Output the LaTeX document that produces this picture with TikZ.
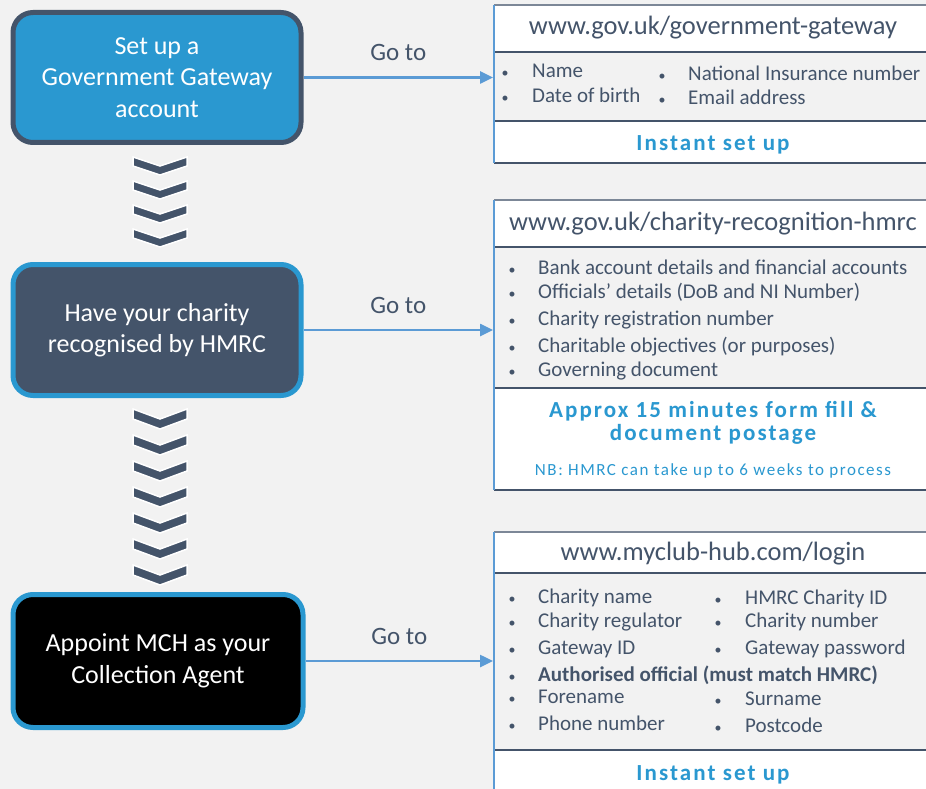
\documentclass[tikz,border=0pt]{standalone}
\usepackage{fontspec}
\setmainfont{Carlito}
\newfontfamily\tagfont[LetterSpace=9]{Carlito}
\usetikzlibrary{arrows.meta}

\definecolor{slate}{HTML}{44546A}
\definecolor{stepblue}{HTML}{2A98D0}
\definecolor{arrowblue}{HTML}{5B9BD5}
\definecolor{paper}{HTML}{F2F2F2}

\tikzset{
  stepbox/.style={rounded corners=20pt, line width=5pt, minimum width=288pt,
    minimum height=130pt, align=center, text=white,
    font=\fontsize{26}{31.5}\selectfont},
  goto/.style={draw=arrowblue, line width=2.5pt, -{Triangle[length=13pt,width=12pt]}},
  golabel/.style={text=slate, font=\fontsize{25}{29}\selectfont},
  urltext/.style={anchor=base, inner sep=0pt, text=slate, font=\fontsize{26.5}{31}\selectfont},
  itemtext/.style={anchor=base west, inner sep=0pt, text=slate, font=\fontsize{21}{25}\selectfont},
  bulletmark/.style={anchor=base, inner sep=0pt, text=slate, font=\fontsize{14}{16}\selectfont},
  tagtext/.style={anchor=base, inner sep=0pt, text=stepblue, font=\fontsize{23}{27}\tagfont\bfseries},
  notetext/.style={anchor=base, inner sep=0pt, text=stepblue, font=\fontsize{17}{20}\tagfont},
  panelline/.style={draw=slate, line width=2.5pt},
  panelside/.style={draw=arrowblue, line width=2.5pt},
}

% panel: top, end of header, start of footer, bottom
\newcommand\panel[4]{
  \fill[white] (494,#1) rectangle (934,#2);
  \fill[white] (494,#3) rectangle (934,#4);
  \draw[draw=slate!70, line width=1.5pt] (494,#1) -- (934,#1);
  \draw[panelline] (494,#2) -- (934,#2) (494,#3) -- (934,#3) (494,#4) -- (934,#4);
  \draw[panelside] (494,#1) -- (494,#4);
}

\begin{document}
\begin{tikzpicture}[x=1pt, y=-1pt]
  \useasboundingbox (0,0) rectangle (926,789);
  \clip (0,0) rectangle (926,789);
  \fill[paper] (0,0) rectangle (926,789);

  % the three steps
  \node[stepbox, fill=stepblue, draw=slate] (gateway) at (157,77.5)
    {Set up a\\Government Gateway\\account};
  \node[stepbox, fill=slate, draw=stepblue, minimum height=131pt] (recognise) at (157,330)
    {Have your charity\\recognised by HMRC};
  \node[stepbox, fill=black, draw=stepblue, minimum width=290pt, minimum height=133pt] (appoint) at (158,661)
    {Appoint MCH as your\\Collection Agent};

  % chevrons between the steps
  \foreach \t in {157,181,205,229} {
    \filldraw[fill=slate, draw=white, line width=1.5pt]
      (133,\t) -- (160,\t+9) -- (187,\t) -- (187,\t+9) -- (160,\t+18) -- (133,\t+9) -- cycle;
  }
  \foreach \t in {409,435,461,487,513,539,565} {
    \filldraw[fill=slate, draw=white, line width=1.5pt]
      (133,\t) -- (160,\t+10) -- (187,\t) -- (187,\t+10) -- (160,\t+20) -- (133,\t+10) -- cycle;
  }

  % panels on the right
  \panel{5}{52}{121}{163}
  \panel{200}{247}{388}{490}
  \panel{532}{573}{750}{800}

  \coordinate (gwpanel) at (493,77.5);
  \coordinate (hmrcpanel) at (493,330);
  \coordinate (mchpanel) at (493,661);

  \draw[goto] (gateway) -- (gwpanel) node[golabel, midway, above=12pt] (goA) {Go to};
  \draw[goto] (recognise) -- (hmrcpanel) node[golabel, midway, above=12pt] (goB) {Go to};
  \draw[goto] (appoint) -- (mchpanel) node[golabel, midway, above=12pt] (goC) {Go to};

  % government gateway
  \node[urltext] (gwurl) at (713,35) {www.gov.uk/government-gateway};
  \foreach \y/\txt [count=\i] in {78/Name, 103/Date of birth} {
    \node[bulletmark] (gwdot\i) at (505,\y) {•};
    \node[itemtext] (gwitem\i) at (532,\y) {\txt};
  }
  \foreach \y/\txt [count=\i] in {81/National Insurance number, 105/Email address} {
    \node[bulletmark] (gwdotb\i) at (662,\y) {•};
    \node[itemtext] (gwitemb\i) at (688,\y) {\txt};
  }
  \node[tagtext] (gwtag) at (713,150) {Instant set up};

  % charity recognition
  \node[urltext] (hmrcurl) at (713,230) {www.gov.uk/charity-recognition-hmrc};
  \foreach \y/\txt [count=\i] in {274/Bank account details and financial accounts,
      298/{Officials’ details (DoB and NI Number)},
      325/Charity registration number,
      352/{Charitable objectives (or purposes)},
      376/Governing document} {
    \node[bulletmark] (hmrcdot\i) at (512,\y) {•};
    \node[itemtext] (hmrcitem\i) at (538,\y) {\txt};
  }
  \node[tagtext] (hmrctag) at (713,417) {Approx 15 minutes form fill \&};
  \node[tagtext] (hmrctagb) at (713,440) {document postage};
  \node[notetext] (hmrcnote) at (713,475) {NB: HMRC can take up to 6 weeks to process};

  % my club hub
  \node[urltext] (mchurl) at (713,560) {www.myclub-hub.com/login};
  \foreach \y/\txt [count=\i] in {603/Charity name, 627/Charity regulator, 654/Gateway ID,
      681/\textbf{Authorised official (must match HMRC)}, 703/Forename, 730/Phone number} {
    \node[bulletmark] (mchdot\i) at (512,\y) {•};
    \node[itemtext] (mchitem\i) at (538,\y) {\txt};
  }
  \foreach \y/\txt [count=\i] in {604/HMRC Charity ID, 627/Charity number, 654/Gateway password,
      705/Surname, 732/Postcode} {
    \node[bulletmark] (mchdotb\i) at (718,\y) {•};
    \node[itemtext] (mchitemb\i) at (745,\y) {\txt};
  }
  \node[tagtext] (mchtag) at (713,780) {Instant set up};
\end{tikzpicture}
\end{document}
